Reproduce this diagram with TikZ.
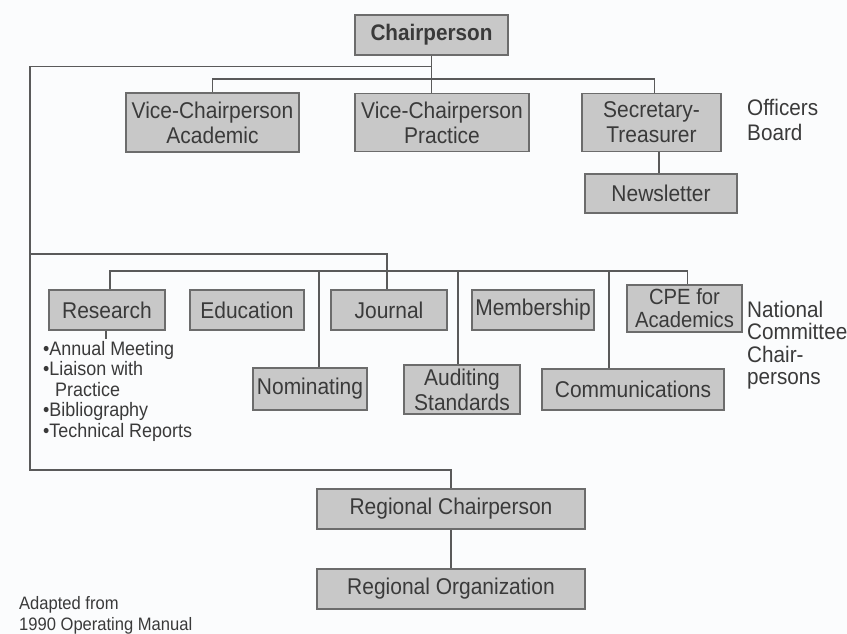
\documentclass[tikz,border=0pt]{standalone}
\usepackage{fontspec}
\setmainfont{Liberation Sans}[FakeStretch=0.92]
\definecolor{bg}{HTML}{FBFCFD}
\definecolor{boxfill}{HTML}{C8C8C8}
\definecolor{boxline}{HTML}{6C6C6C}
\definecolor{lineclr}{HTML}{5A5A5A}
\definecolor{txt}{HTML}{3A3A3A}
\begin{document}
\begin{tikzpicture}[x=1pt,y=-1pt,
  box/.style={draw=boxline, line width=1.8pt, fill=boxfill, inner sep=0pt, align=center,
    font=\fontsize{22.8}{25}\selectfont, text=txt},
  conn/.style={draw=lineclr, line width=1.4pt},
  note/.style={anchor=base west, inner sep=0pt, text=txt, font=\fontsize{22.5}{22}\selectfont},
  small/.style={anchor=base west, inner sep=0pt, text=txt, font=\fontsize{19.5}{20}\selectfont}]
\path[fill=bg] (0,0) rectangle (847,634);
\useasboundingbox (0,0) rectangle (847,634);

% Officers
\node[box, minimum width=153pt, minimum height=40pt, font=\fontsize{22.5}{24}\selectfont\bfseries] (chair) at (431.5,35) {Chairperson};
\node[box, minimum width=173pt, minimum height=59pt] (vca) at (212.5,122.5) {Vice-Chairperson\\Academic};
\node[box, minimum width=174pt, minimum height=58pt] (vcp) at (442,122.5) {Vice-Chairperson\\Practice};
\node[box, minimum width=139pt, minimum height=58pt] (sec) at (651.5,122.5) {Secretary-\\Treasurer};
\node[box, minimum width=152pt, minimum height=39pt] (news) at (661,193.5) {Newsletter};
\node[note] (ob1) at (747,115) {Officers};
\node[note] (ob2) at (747,140) {Board};

% Committees
\node[box, minimum width=116pt, minimum height=40pt] (research) at (107,310) {Research};
\node[box, minimum width=114pt, minimum height=40pt] (edu) at (247,310) {Education};
\node[box, minimum width=116pt, minimum height=40pt] (journal) at (389,310) {Journal};
\node[box, minimum width=122pt, minimum height=40pt] (member) at (533,310) {Membership};
\node[box, minimum width=115pt, minimum height=47pt, font=\fontsize{22}{23}\selectfont] (cpe) at (684.5,308.5) {CPE for\\Academics};
\node[box, minimum width=114pt, minimum height=42pt] (nom) at (310,389) {Nominating};
\node[box, minimum width=116pt, minimum height=49pt] (aud) at (462,389.5) {Auditing\\Standards};
\node[box, minimum width=182pt, minimum height=41pt] (comm) at (633,389.5) {Communications};
\node[note] (nc1) at (747,317) {National};
\node[note] (nc2) at (747,339) {Committee};
\node[note] (nc3) at (747,362) {Chair-};
\node[note] (nc4) at (747,384) {persons};

\node[small] (b1) at (43,355) {•Annual Meeting};
\node[small] (b2) at (43,375.5) {•Liaison with};
\node[small] (b3) at (55,396) {Practice};
\node[small] (b4) at (43,416.5) {•Bibliography};
\node[small] (b5) at (43,437) {•Technical Reports};

% Regional
\node[box, minimum width=268pt, minimum height=40pt] (regc) at (451,509) {Regional Chairperson};
\node[box, minimum width=268pt, minimum height=40pt] (rego) at (451,589) {Regional Organization};

\node[small, font=\fontsize{18}{20}\selectfont] (ad1) at (19,609) {Adapted from};
\node[small, font=\fontsize{18}{20}\selectfont] (ad2) at (19,630) {1990 Operating Manual};

% Connectors
\coordinate (t1) at (30,66.7);
\coordinate (t3) at (30,254);
\coordinate (t2) at (30,470);
\draw[conn] (chair.south) -- (chair.south |- vcp.north);
\draw[conn] (vca.north) -- ++(0,-13) -| ([xshift=3pt]sec.north);
\draw[conn] (chair.south |- t1) -- (t1) -- (t2) -| (regc.north);
\draw[conn] ([xshift=-2pt]news.north) -- ([xshift=-2pt]news.north |- sec.south);
\draw[conn] (t3) -| ([xshift=-2pt]journal.north);
\path (research.north) ++(0,-18) coordinate (bar2);
\draw[conn] ([xshift=3pt]research.north) -- ([xshift=3pt]bar2) -| ([xshift=3pt]cpe.north);
\draw[conn] ([xshift=9pt]nom.north) -- ([xshift=9pt]nom.north |- bar2);
\draw[conn] ([xshift=-4pt]aud.north) -- ([xshift=-4pt]aud.north |- bar2);
\draw[conn] ([xshift=-24pt]comm.north) -- ([xshift=-24pt]comm.north |- bar2);
\draw[conn] ([xshift=-1pt]research.south) -- ++(0,8);
\draw[conn] (regc.south) -- (rego.north);
\end{tikzpicture}
\end{document}
